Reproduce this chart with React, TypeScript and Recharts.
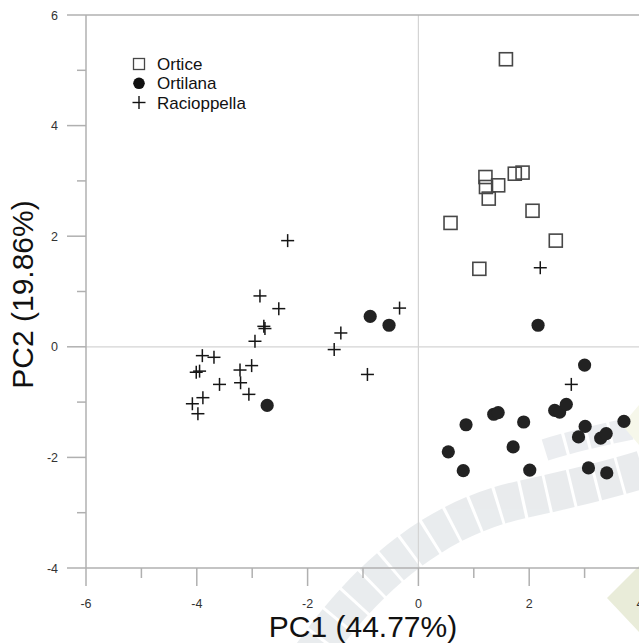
import React from 'react';
import { ScatterChart, Scatter, XAxis, YAxis, ReferenceLine, Legend, Label } from 'recharts';

// ---- data (PC1, PC2) ----
const orticePoints: [number, number][] = [
  [1.58, 5.2], [1.21, 3.07], [1.22, 2.89], [1.44, 2.92], [1.27, 2.68], [1.74, 3.13],
  [1.88, 3.15], [2.06, 2.46], [0.58, 2.24], [2.48, 1.92], [1.1, 1.41],
];
const ortilanaPoints: [number, number][] = [
  [2.16, 0.39], [3.0, -0.33], [0.86, -1.41], [0.54, -1.9], [0.81, -2.24], [1.36, -1.22],
  [1.44, -1.19], [1.9, -1.36], [1.71, -1.81], [2.01, -2.23], [2.46, -1.15], [2.55, -1.18],
  [2.67, -1.04], [3.01, -1.44], [2.89, -1.63], [3.29, -1.65], [3.39, -1.57], [3.71, -1.35],
  [3.07, -2.19], [3.4, -2.28], [-0.87, 0.55], [-0.53, 0.39], [-2.73, -1.06],
];
const racioppellaPoints: [number, number][] = [
  [-2.36, 1.92], [-2.86, 0.92], [-2.52, 0.69], [-2.79, 0.37], [-2.77, 0.33], [-2.95, 0.1],
  [-3.9, -0.16], [-3.69, -0.19], [-4.01, -0.46], [-3.95, -0.44], [-3.59, -0.68], [-3.22, -0.42],
  [-3.01, -0.34], [-3.21, -0.65], [-3.06, -0.86], [-4.08, -1.03], [-3.89, -0.92], [-3.98, -1.21],
  [-1.4, 0.25], [-1.52, -0.05], [-0.34, 0.7], [-0.92, -0.5], [2.76, -0.68], [2.2, 1.43],
];
const seriesNames = ['Ortice', 'Ortilana', 'Racioppella'];
const xTicks = [-6, -5, -4, -3, -2, -1, 0, 1, 2, 3, 4];
const yTicks = [-4, -3, -2, -1, 0, 1, 2, 3, 4, 5, 6];
const xTitle = 'PC1 (44.77%)';
const yTitle = 'PC2 (19.86%)';

const toRows = (pts: [number, number][]) => pts.map(([x, y]) => ({ x, y }));

const FONT = "'Liberation Sans', Arial, sans-serif";
const AXIS = '#b0b0b0';
const ZERO = '#d4d4d4';

const SquareShape = (p: any) => (
  <rect x={p.cx - 6.5} y={p.cy - 6.5} width={13} height={13} fill="none" stroke="#474747" strokeWidth={1.6} />
);
const CircleShape = (p: any) => <circle cx={p.cx} cy={p.cy} r={6.6} fill="#222" />;
const CrossShape = (p: any) => (
  <g stroke="#151515" strokeWidth={1.5}>
    <line x1={p.cx - 6.5} x2={p.cx + 6.5} y1={p.cy} y2={p.cy} />
    <line x1={p.cx} x2={p.cx} y1={p.cy - 6.5} y2={p.cy + 6.5} />
  </g>
);

const XTick = (props: any) => {
  const { x, y, payload } = props;
  const v = payload.value;
  const major = v % 2 === 0;
  return (
    <g>
      <line x1={x} x2={x} y1={y} y2={y + (major ? 18 : 10)} stroke={AXIS} strokeWidth={1.5} />
      {major && (
        <text x={x} y={y + 39.5} textAnchor="middle" fontSize={12.5} fill="#333" fontFamily={FONT}>
          {v}
        </text>
      )}
    </g>
  );
};

const YTick = (props: any) => {
  const { x, y, payload } = props;
  const v = payload.value;
  const major = v % 2 === 0;
  return (
    <g>
      <line x1={x - (major ? 19 : 9)} x2={x} y1={y} y2={y} stroke={AXIS} strokeWidth={1.5} />
      {major && (
        <text x={x - 28} y={y + 4.5} textAnchor="end" fontSize={12.5} fill="#333" fontFamily={FONT}>
          {v}
        </text>
      )}
    </g>
  );
};

const LegendContent = () => (
  <svg width={130} height={62} style={{ display: 'block' }}>
    <rect x={5.5} y={6.5} width={11} height={11} fill="none" stroke="#474747" strokeWidth={1.3} />
    <text x={29} y={18} fontSize={17} fill="#111" fontFamily={FONT}>{seriesNames[0]}</text>
    <circle cx={11} cy={31.3} r={5.8} fill="#111" />
    <text x={29} y={37.3} fontSize={17} fill="#111" fontFamily={FONT}>{seriesNames[1]}</text>
    <g stroke="#111" strokeWidth={1.4}>
      <line x1={4.5} x2={17.5} y1={50.5} y2={50.5} />
      <line x1={11} x2={11} y1={44} y2={57} />
    </g>
    <text x={29} y={56.5} fontSize={17} fill="#111" fontFamily={FONT}>{seriesNames[2]}</text>
  </svg>
);

const Watermark = () => (
  <svg width={639} height={643} style={{ position: 'absolute', left: 0, top: 0 }}>
    <g opacity={0.75}>
      <path d="M 295 680 Q 392 528 520 500 T 680 455" fill="none" stroke="#e2e5e8" strokeWidth={38} strokeDasharray="22 3" />
      <path d="M 545 450 Q 590 436 660 423" fill="none" stroke="#e5e8eb" strokeWidth={22} strokeDasharray="20 3" />
    </g>
    <polygon points="607,598 639,566 672,598 639,632" fill="#e9ecd9" />
    <polygon points="622,425 639,405 660,425 639,445" fill="#f6f7ea" />
  </svg>
);

export default function App() {
  return (
    <div style={{ position: 'absolute', left: 0, top: 0, width: 639, height: 643, overflow: 'hidden', background: '#fff' }}>
      <Watermark />
      <div style={{ position: 'absolute', left: 0, top: 0 }}>
        <ScatterChart width={640} height={643} margin={{ top: 15, right: 0, bottom: 0, left: 0 }}>
          <XAxis
            type="number"
            dataKey="x"
            domain={[-6, 4]}
            ticks={xTicks}
            interval={0}
            height={75}
            tickSize={0}
            tickMargin={0}
            tickLine={false}
            axisLine={{ stroke: AXIS, strokeWidth: 1.5 }}
            tick={<XTick />}
            allowDataOverflow
          >
            <Label
              content={(p: any) => {
                const vb = p.viewBox;
                return (
                  <text x={vb.x + vb.width / 2} y={637} textAnchor="middle" fontSize={30} fill="#111" fontFamily={FONT}>
                    {xTitle}
                  </text>
                );
              }}
            />
          </XAxis>
          <YAxis
            type="number"
            dataKey="y"
            domain={[-4, 6]}
            ticks={yTicks}
            interval={0}
            width={86}
            tickSize={0}
            tickMargin={0}
            tickLine={false}
            axisLine={{ stroke: AXIS, strokeWidth: 1.5 }}
            tick={<YTick />}
            allowDataOverflow
          >
            <Label
              content={(p: any) => {
                const vb = p.viewBox;
                const cy = vb.y + vb.height / 2 + 3;
                return (
                  <text x={33} y={cy} transform={`rotate(-90 33 ${cy})`} textAnchor="middle" fontSize={30} fill="#111" fontFamily={FONT}>
                    {yTitle}
                  </text>
                );
              }}
            />
          </YAxis>
          <ReferenceLine y={0} stroke={ZERO} strokeWidth={1.2} />
          <ReferenceLine x={0} stroke={ZERO} strokeWidth={1.2} />
          <ReferenceLine y={6} stroke={AXIS} strokeWidth={1.5} />
          <Legend
            layout="horizontal"
            verticalAlign="middle"
            align="center"
            content={<LegendContent />}
            wrapperStyle={{ left: 128, top: 52, width: 'auto', height: 'auto' }}
          />
          <Scatter name={seriesNames[0]} data={toRows(orticePoints)} shape={SquareShape} isAnimationActive={false} />
          <Scatter name={seriesNames[1]} data={toRows(ortilanaPoints)} shape={CircleShape} isAnimationActive={false} />
          <Scatter name={seriesNames[2]} data={toRows(racioppellaPoints)} shape={CrossShape} isAnimationActive={false} />
        </ScatterChart>
      </div>
    </div>
  );
}
